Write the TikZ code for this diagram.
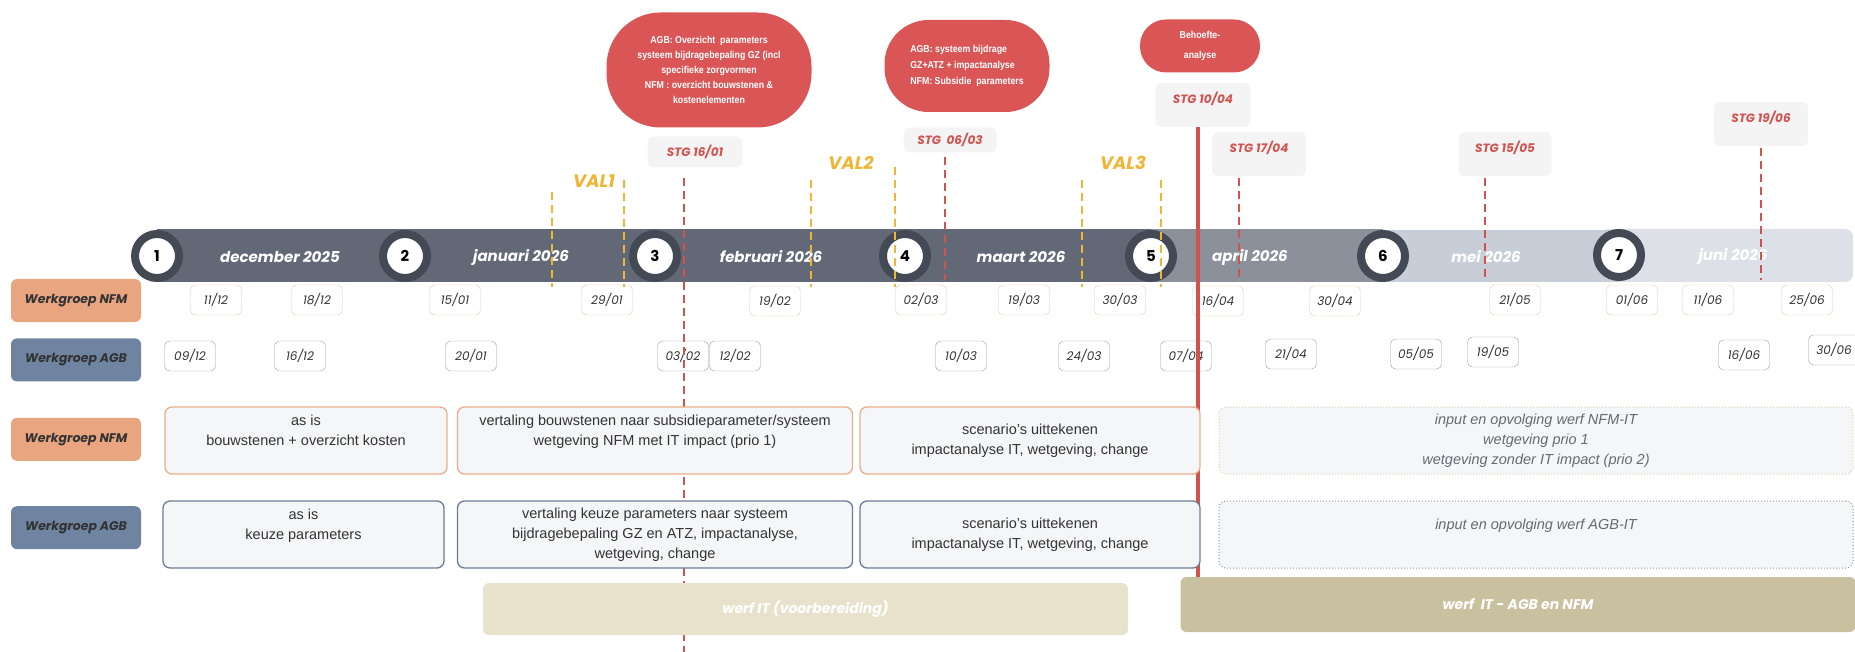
\documentclass[tikz,border=0pt]{standalone}
\usepackage{fontspec}
\setmainfont{Liberation Sans}
\newfontfamily\popfont{Poppins}
\newfontfamily\blobfont{Liberation Sans}[FakeStretch=0.88]
\usetikzlibrary{positioning, calc}

\definecolor{bardark}{HTML}{626876}
\definecolor{barmid}{HTML}{8B909B}
\definecolor{barlight}{HTML}{C8CED8}
\definecolor{barpale}{HTML}{DDE1E7}
\definecolor{ringgrey}{HTML}{434955}
\definecolor{stgred}{HTML}{D0534F}
\definecolor{blobred}{HTML}{DA5656}
\definecolor{stgfill}{HTML}{F4F4F5}
\definecolor{valorange}{HTML}{F0B535}
\definecolor{nfmorange}{HTML}{E9A580}
\definecolor{agbblue}{HTML}{6F84A0}
\definecolor{nfmline}{HTML}{E2CDAA}
\definecolor{agbline}{HTML}{8D9DB1}
\definecolor{boxfill}{HTML}{F5F6F8}
\definecolor{nfmbox}{HTML}{E9AE8A}
\definecolor{agbbox}{HTML}{6B7D94}
\definecolor{werflight}{HTML}{E8E2CC}
\definecolor{werfdark}{HTML}{C9C0A0}
\definecolor{textdark}{HTML}{333333}
\definecolor{textgrey}{HTML}{666A70}

\tikzset{
  month/.style={
    text=white,
    font=\popfont\bfseries\itshape\fontsize{15}{18}\selectfont
  },
  stepnr/.style={
    circle,
    draw=ringgrey,
    line width=8pt,
    fill=white,
    minimum size=44pt,
    inner sep=0pt,
    font=\popfont\bfseries\fontsize{15}{18}\selectfont
  },
  datum/.style={
    draw,
    rounded corners=5pt,
    fill=white,
    minimum width=51pt,
    minimum height=30pt,
    inner sep=0pt,
    text=textdark,
    font=\popfont\itshape\fontsize{12}{14}\selectfont
  },
  nfmdatum/.style={datum, draw=nfmline},
  agbdatum/.style={datum, draw=agbline},
  groep/.style={
    rounded corners=6pt,
    minimum width=130pt,
    minimum height=43pt,
    text=textdark,
    font=\popfont\bfseries\itshape\fontsize{12.5}{15}\selectfont
  },
  taak/.style={
    draw,
    line width=1.3pt,
    rounded corners=7pt,
    fill=boxfill,
    align=center,
    minimum height=67pt,
    inner sep=0pt,
    text=textdark,
    font=\fontsize{14.5}{20}\selectfont
  },
  opvolging/.style={
    taak,
    line width=1pt,
    dotted,
    text=textgrey,
    font=\itshape\fontsize{14.5}{20}\selectfont
  },
  stg/.style={
    fill=stgfill,
    rounded corners=6pt,
    align=center,
    inner sep=0pt,
    text=stgred,
    font=\popfont\bfseries\itshape\fontsize{12}{14}\selectfont
  },
  blob/.style={
    fill=blobred,
    text=white,
    inner sep=0pt,
    font=\blobfont\bfseries\fontsize{10}{15}\selectfont
  },
  val/.style={
    text=valorange,
    font=\popfont\bfseries\itshape\fontsize{18}{20}\selectfont
  },
  werf/.style={
    rounded corners=6pt,
    inner sep=0pt,
    text=white,
    font=\popfont\bfseries\itshape\fontsize{14}{17}\selectfont
  },
  stglijn/.style={draw=stgred, line width=2.5pt, dash pattern=on 8pt off 5pt},
  vallijn/.style={draw=valorange, line width=2.5pt, dash pattern=on 8pt off 5pt},
  rodelijn/.style={draw=stgred, line width=4pt}
}

\begin{document}
\begin{tikzpicture}[x=1pt, y=-1pt]
    \useasboundingbox (0,0) rectangle (1855,652);

    % tijdlijn
    \fill[barpale, rounded corners=8pt] (1600,229) rectangle (1853,282);
    \fill[barlight] (1383,230) rectangle (1619,282);
    \fill[barmid] (1151,229) rectangle (1383,282);
    \fill[bardark] (157,229) rectangle (1151,282);

    \node[stepnr] (s1) at (157,256) {1};
    \node[stepnr] (s2) at (405,256) {2};
    \node[stepnr] (s3) at (655,256) {3};
    \node[stepnr] (s4) at (905,256) {4};
    \node[stepnr] (s5) at (1151,256) {5};
    \node[stepnr] (s6) at (1383,256) {6};
    \node[stepnr] (s7) at (1619,255) {7};

    \node[month] (dec) at (280,257) {december 2025};
    \node[month] (jan) at (521,257) {januari 2026};
    \node[month] (feb) at (771,257) {februari 2026};
    \node[month] (maa) at (1021,257) {maart 2026};
    \node[month] (apr) at (1250,257) {april 2026};
    \node[month] (mei) at (1486,257) {mei 2026};
    \node[month] (jun) at (1733,256) {juni 2026};

    % vergaderdata
    \node[nfmdatum] (n1112) at (216,300) {11/12};
    \node[nfmdatum] (n1812) at (317,300) {18/12};
    \node[nfmdatum] (n1501) at (455,300) {15/01};
    \node[nfmdatum] (n2901) at (607,300) {29/01};
    \node[nfmdatum] (n1902) at (775,301) {19/02};
    \node[nfmdatum] (n0203) at (921,300) {02/03};
    \node[nfmdatum] (n1903) at (1024,300) {19/03};
    \node[nfmdatum] (n3003) at (1120,300) {30/03};
    \node[nfmdatum] (n1604) at (1218,301) {16/04};
    \node[nfmdatum] (n3004) at (1335,301) {30/04};
    \node[nfmdatum] (n2105) at (1515,300) {21/05};
    \node[nfmdatum] (n0106) at (1632,300) {01/06};
    \node[nfmdatum] (n1106) at (1708,300) {11/06};
    \node[nfmdatum] (n2506) at (1807,300) {25/06};

    \node[agbdatum] (a0912) at (190,356) {09/12};
    \node[agbdatum] (a1612) at (300,356) {16/12};
    \node[agbdatum] (a2001) at (471,356) {20/01};
    \node[agbdatum] (a0302) at (683,356) {03/02};
    \node[agbdatum] (a1202) at (735,356) {12/02};
    \node[agbdatum] (a1003) at (961,356) {10/03};
    \node[agbdatum] (a2403) at (1084,356) {24/03};
    \node[agbdatum] (a0704) at (1186,356) {07/04};
    \node[agbdatum] (a2104) at (1291,354) {21/04};
    \node[agbdatum] (a0505) at (1416,354) {05/05};
    \node[agbdatum] (a1905) at (1493,352) {19/05};
    \node[agbdatum] (a1606) at (1744,355) {16/06};
    \node[agbdatum] (a3006) at (1834,350) {30/06};

    % stuurgroepen
    \node[stg, minimum width=95pt, minimum height=31pt] (stg1601) at (695,152) {STG 16/01};
    \node[stg, minimum width=93pt, minimum height=25pt] (stg0603) at (950,140) {STG\ \ 06/03};
    \node[stg, minimum width=95pt, minimum height=44pt] (stg1004) at (1203,105) {STG 10/04\\\mbox{}};
    \node[stg, minimum width=94pt, minimum height=44pt] (stg1704) at (1259,154) {STG 17/04\\\mbox{}};
    \node[stg, minimum width=93pt, minimum height=44pt] (stg1505) at (1505,154) {STG 15/05\\\mbox{}};
    \node[stg, minimum width=94pt, minimum height=44pt] (stg1906) at (1761,124) {STG 19/06\\\mbox{}};

    \node[blob, minimum width=205pt, minimum height=115pt, rounded corners=54pt, align=center] (blob1) at (709,70)
      {AGB: Overzicht\ \ parameters\\systeem bijdragebepaling GZ (incl\\specifieke zorgvormen\\NFM : overzicht bouwstenen \&\\kostenelementen};
    \node[blob, minimum width=165pt, minimum height=92pt, rounded corners=44pt, align=left,
      font=\blobfont\bfseries\fontsize{10}{16}\selectfont] (blob2) at (967,66)
      {AGB: systeem bijdrage\\GZ+ATZ + impactanalyse\\NFM: Subsidie\ \ parameters};
    \node[blob, minimum width=120pt, minimum height=53pt, rounded corners=26pt, align=center,
      font=\blobfont\bfseries\fontsize{10}{20}\selectfont] (blob3) at (1200,46) {Behoefte-\\analyse};

    \node[val] (val1) at (594,181) {VAL1};
    \node[val] (val2) at (851,163) {VAL2};
    \node[val] (val3) at (1123,163) {VAL3};

    % lijnen
    \coordinate (valbot) at (0,287);
    \coordinate (v1l) at (552,192);
    \coordinate (v1r) at (624,180);
    \coordinate (v2l) at (811,180);
    \coordinate (v2r) at (895,167);
    \coordinate (v3l) at (1082,180);
    \coordinate (v3r) at (1161,180);
    \draw[vallijn] (v1l) -- (v1l |- valbot);
    \draw[vallijn] (v1r) -- (v1r |- valbot);
    \draw[vallijn] (v2l) -- (v2l |- valbot);
    \draw[vallijn] (v2r) -- (v2r |- valbot);
    \draw[vallijn] (v3l) -- (v3l |- valbot);
    \draw[vallijn] (v3r) -- (v3r |- valbot);

    \coordinate (d1601) at (684,652);
    \coordinate (d0603) at (945,280);
    \coordinate (d1704) at (1239,280);
    \coordinate (d1505) at (1485,280);
    \coordinate (d1906) at (1761,280);
    \draw[stglijn] (d1601 |- stg1601.south) ++(0,10) -- (d1601);
    \draw[stglijn] (d0603 |- stg0603.south) ++(0,4) -- (d0603);
    \draw[stglijn] (d1704 |- stg1704.south) ++(0,2) -- (d1704);
    \draw[stglijn] (d1505 |- stg1505.south) ++(0,2) -- (d1505);
    \draw[stglijn] (d1906 |- stg1906.south) ++(0,2) -- (d1906);

    \coordinate (r1004) at (1198,127);
    \coordinate (r0704) at (1198,577);
    \draw[rodelijn] (r1004) -- (r0704);

    % werkgroepen
    \node[groep, fill=nfmorange] (nfmA) at (76,300.5) {Werkgroep NFM};
    \node[groep, fill=agbblue, below=16pt of nfmA] (agbA) {Werkgroep AGB};
    \node[groep, fill=nfmorange, below=36pt of agbA] (nfmB) {Werkgroep NFM};
    \node[groep, fill=agbblue, below=45pt of nfmB] (agbB) {Werkgroep AGB};

    \node[taak, draw=nfmbox, minimum width=282pt] (nfm1) at (306,440.5)
      {as is\\bouwstenen + overzicht kosten\\\mbox{}};
    \node[taak, draw=nfmbox, minimum width=395pt] (nfm2) at (655,440.5)
      {vertaling bouwstenen naar subsidieparameter/systeem\\wetgeving NFM met IT impact (prio 1)\\\mbox{}};
    \node[taak, draw=nfmbox, minimum width=340pt] (nfm3) at (1030,440.5)
      {scenario's uittekenen\\impactanalyse IT, wetgeving, change};
    \node[opvolging, draw=nfmline, minimum width=634pt] (nfm4) at (1536,440.5)
      {input en opvolging werf NFM-IT\\wetgeving prio 1\\wetgeving zonder IT impact (prio 2)};

    \node[taak, draw=agbbox, minimum width=281pt] (agb1) at (303.5,534.5)
      {as is\\keuze parameters\\\mbox{}};
    \node[taak, draw=agbbox, minimum width=395pt] (agb2) at (655,534.5)
      {vertaling keuze parameters naar systeem\\bijdragebepaling GZ en ATZ, impactanalyse,\\wetgeving, change};
    \node[taak, draw=agbbox, minimum width=340pt] (agb3) at (1030,534.5)
      {scenario's uittekenen\\impactanalyse IT, wetgeving, change};
    \node[opvolging, draw=agbline, minimum width=634pt] (agb4) at (1536,534.5)
      {input en opvolging werf AGB-IT\\\mbox{}};

    % werven
    \node[werf, fill=werflight, minimum width=645pt, minimum height=52pt] (werf1) at (805.5,609) {werf IT (voorbereiding)};
    \node[werf, fill=werfdark, minimum width=675pt, minimum height=55pt] (werf2) at (1518,604.5) {werf~ IT - AGB en NFM};
\end{tikzpicture}
\end{document}
